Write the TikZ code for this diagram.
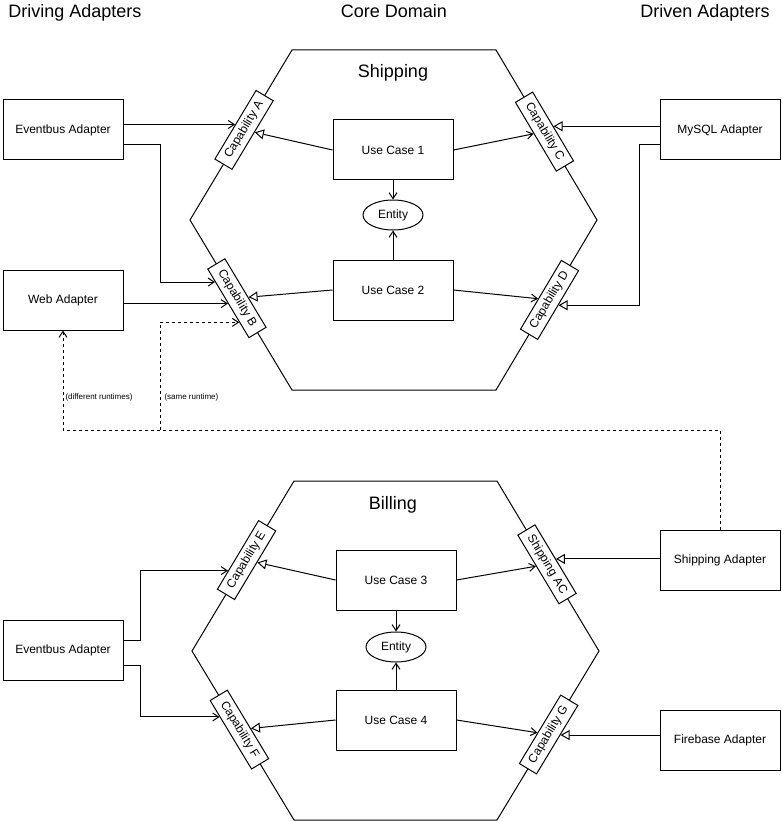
\documentclass[tikz,border=0pt]{standalone}
\usepackage{fontspec}
\setmainfont{Liberation Sans}
\usetikzlibrary{arrows.meta,calc,shapes.geometric}

\begin{document}
\begin{tikzpicture}[x=1pt,y=-1pt,line width=1pt,font=\fontsize{12}{14}\selectfont,
	box/.style={draw,minimum width=120pt,minimum height=60pt,inner sep=0pt},
	capbox/.style={draw,fill=white,minimum width=80pt,minimum height=20pt,inner sep=0pt,sloped},
	ent/.style={draw,ellipse,minimum width=60pt,minimum height=30pt,inner sep=0pt},
	head/.style={font=\fontsize{18}{22}\selectfont,anchor=base,inner sep=0pt},
	note/.style={font=\fontsize{8}{9}\selectfont,anchor=west,inner sep=1pt},
	flow/.style={-{Straight Barb[length=6pt,width=8pt]}},
	impl/.style={-{Triangle[length=9pt,width=10pt,fill=white]}},
	dflow/.style={flow,dash pattern=on 3pt off 3pt}]

\useasboundingbox (0,0) rectangle (781,821);

% Ueberschriften
\node[head] (hdrive) at (75,18) {Driving Adapters};
\node[head] (hcore) at (394,18) {Core Domain};
\node[head] (hdriven) at (705,18) {Driven Adapters};

% Sechseck Shipping
\coordinate (sTL) at (292,50);
\coordinate (sTR) at (496,50);
\coordinate (sR) at (597,220);
\coordinate (sBR) at (496,390);
\coordinate (sBL) at (292,390);
\coordinate (sL) at (190,220);
\draw (sTL)--(sTR)--(sR)--(sBR)--(sBL)--(sL)--cycle;
\node[head] (hship) at (393,78) {Shipping};

% Sechseck Billing
\coordinate (bTL) at (294,481);
\coordinate (bTR) at (497,481);
\coordinate (bR) at (599,651);
\coordinate (bBR) at (497,820);
\coordinate (bBL) at (294,820);
\coordinate (bL) at (192,651);
\draw (bTL)--(bTR)--(bR)--(bBR)--(bBL)--(bL)--cycle;
\node[head] (hbill) at (393,509) {Billing};

% Capabilities
\path (sL) -- (sTL) node[capbox,pos=0.53] (capA) {Capability A};
\path (sL) -- (sBL) node[capbox,pos=0.46] (capB) {Capability B};
\path (sTR) -- (sR) node[capbox,pos=0.48] (capC) {Capability C};
\path (sBR) -- (sR) node[capbox,pos=0.53] (capD) {Capability D};
\path (bL) -- (bTL) node[capbox,pos=0.535] (capE) {Capability E};
\path (bTR) -- (bR) node[capbox,pos=0.49] (capAC) {Shipping AC};
\path (bL) -- (bBL) node[capbox,pos=0.465] (capF) {Capability F};
\path (bBR) -- (bR) node[capbox,pos=0.506] (capG) {Capability G};

% Adapter
\node[box] (ebA) at (63,130) {Eventbus Adapter};
\node[box] (webAd) at (63,300) {Web Adapter};
\node[box] (sqlAd) at (720,130) {MySQL Adapter};
\node[box] (ebB) at (63,650) {Eventbus Adapter};
\node[box] (shipAd) at (720,560) {Shipping Adapter};
\node[box] (fbAd) at (720,740) {Firebase Adapter};

% Use Cases
\node[box] (uc1) at (393,150) {Use Case 1};
\node[box] (uc2) at (393,290) {Use Case 2};
\node[ent] (ent1) at (393,215) {Entity};
\node[box] (uc3) at (396,580) {Use Case 3};
\node[box] (uc4) at (396,720) {Use Case 4};
\node[ent] (ent2) at (396,647) {Entity};

% Pfeile Shipping
\draw[flow] (capA.north -| ebA.east) -- (capA.north);
\draw[flow] ([yshift=-15pt]ebA.east) -- ++(37,0)
	|- ($(capB.south west)!0.19!(capB.south east)$);
\draw[flow] (capB.south -| webAd.east) -- (capB.south);
\draw[impl] (uc1.west) -- (capA);
\draw[flow] (uc1.east) -- (capC);
\draw[impl] (capC.north -| sqlAd.west) -- (capC.north);
\draw[impl] ([yshift=-15pt]sqlAd.west) -- ++(-20,0) |- (capD.south);
\draw[impl] (uc2.west) -- (capB);
\draw[flow] (uc2.east) -- (capD);
\draw[flow] (uc1.south) -- (ent1.north);
\draw[flow] (uc2.north) -- (ent1.south);

% Laufzeit (gestrichelt)
\coordinate (split) at (160,430);
\draw[dflow] (shipAd.north) |- (split) -| (webAd.south);
\draw[dflow] (split) |- ($(capB.south west)!0.77!(capB.south east)$);
\node[note] (lblDiff) at (64,397) {(different runtimes)};
\node[note] (lblSame) at (163,397) {(same runtime)};

% Pfeile Billing
\draw[flow] ([yshift=10pt]ebB.east) -- ++(17,0)
	|- ($(capE.north west)!0.27!(capE.north east)$);
\draw[flow] ([yshift=-15pt]ebB.east) -- ++(17,0)
	|- ($(capF.south west)!0.24!(capF.south east)$);
\draw[impl] (uc3.west) -- (capE);
\draw[flow] (uc3.east) -- (capAC);
\draw[impl] (capAC.north -| shipAd.west) -- (capAC.north);
\draw[impl] (uc4.west) -- (capF);
\draw[flow] (uc4.east) -- (capG);
\coordinate (gIn) at ($(capG.south west)!0.57!(capG.south east)$);
\draw[impl] (gIn -| fbAd.west) -- (gIn);
\draw[flow] (uc3.south) -- (ent2.north);
\draw[flow] (uc4.north) -- (ent2.south);

\end{tikzpicture}
\end{document}
